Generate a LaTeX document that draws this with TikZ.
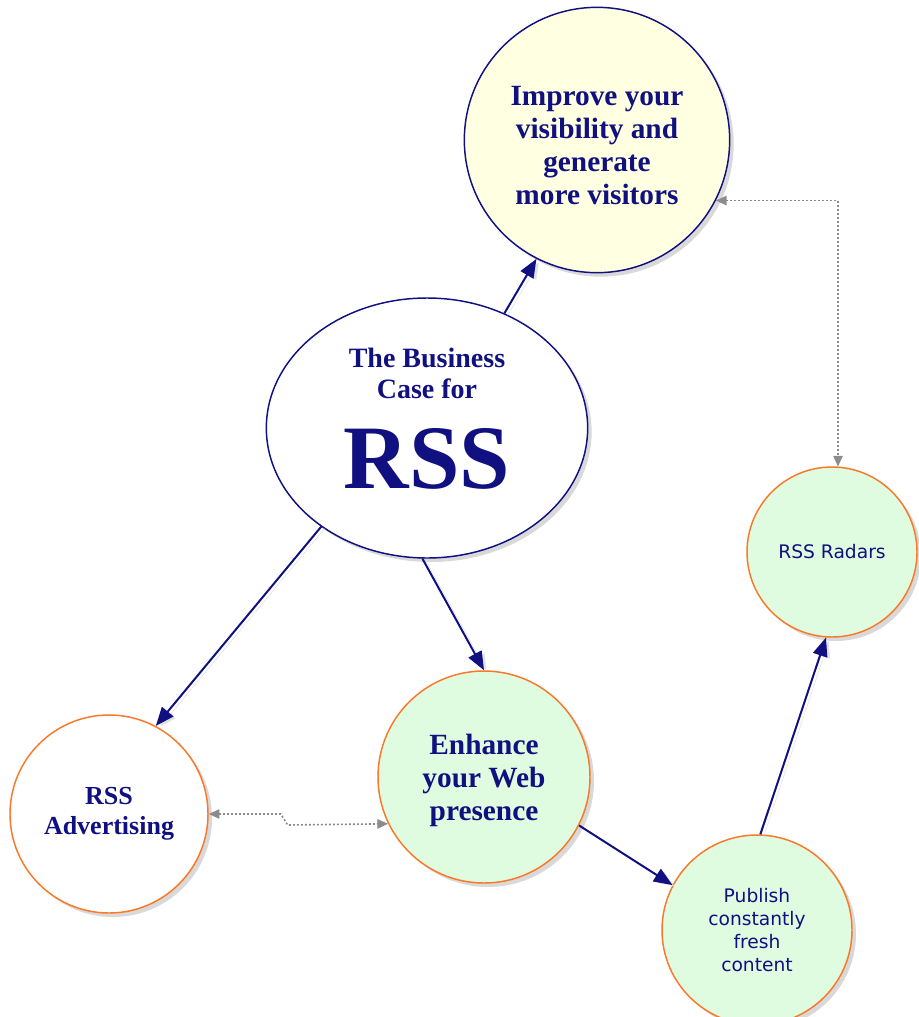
\documentclass[tikz,border=0pt]{standalone}
\usepackage{fontspec}
\setmainfont{Liberation Serif}
\newfontfamily\notesans{DejaVu Sans}
\usetikzlibrary{shapes.geometric, arrows.meta, shadows}
\definecolor{rssnavy}{RGB}{16,16,128}
\definecolor{rssorange}{RGB}{250,120,40}
\definecolor{rssyellow}{RGB}{255,255,226}
\definecolor{rssgreen}{RGB}{224,252,224}
\definecolor{rssgray}{RGB}{140,140,140}

\begin{document}
\begin{tikzpicture}[x=0.75pt, y=-0.75pt, %one unit is one pixel of the sketch
bubble/.style ={circle, draw, line width=1.1pt, inner sep=0pt, align=center, text=rssnavy,
  drop shadow={shadow xshift=3pt, shadow yshift=-3pt, opacity=0.3}},
serifbig/.style ={font=\bfseries\fontsize{22}{24.75}\selectfont},
serifmid/.style ={font=\bfseries\fontsize{19.5}{22.5}\selectfont},
sansnote/.style ={font=\notesans\fontsize{14}{17.25}\selectfont},
link/.style ={-{Triangle[length=14pt,width=11pt]}, draw=rssnavy, line width=1.5pt,
  preaction={draw=black!12, transform canvas={xshift=2.5pt, yshift=-1.5pt}}},
hint/.style ={{Triangle[length=8pt,width=7pt]}-{Triangle[length=8pt,width=7pt]}, draw=rssgray,
  line width=1.2pt, dash pattern=on 1.5pt off 1.5pt}
]
\useasboundingbox (0,0) rectangle (918,1017);
%top goal
\draw (597,140) node[bubble, draw=rssnavy, fill=rssyellow, minimum size=199pt, serifbig] (imp)
  {\rule{0pt}{23pt}Improve your\\visibility and\\generate\\more visitors};
%central ellipse
\draw (427,428) node[ellipse, draw=rssnavy, fill=white, line width=1.1pt, inner sep=0pt,
  minimum width=241pt, minimum height=195pt, align=center, text=rssnavy,
  drop shadow={shadow xshift=3pt, shadow yshift=-3pt, opacity=0.3},
  font=\bfseries\fontsize{21}{23.25}\selectfont] (core)
  {The Business\\Case for\\[21pt]{\fontsize{68}{70}\selectfont RSS}\rule[-15pt]{0pt}{15pt}};
%lower circles
\draw (109,814) node[bubble, draw=rssorange, fill=white, minimum size=148.5pt, serifmid] (adv)
  {RSS\\Advertising};
\draw (484,777) node[bubble, draw=rssorange, fill=rssgreen, minimum size=159pt, serifbig] (enh)
  {\rule{0pt}{21pt}Enhance\\your Web\\presence};
\draw (757,930) node[bubble, draw=rssorange, fill=rssgreen, minimum size=142.5pt, sansnote] (pub)
  {Publish\\constantly\\fresh\\content};
\draw (832,552) node[bubble, draw=rssorange, fill=rssgreen, minimum size=127.5pt, sansnote] (radar)
  {RSS Radars};
%arrows out of the core
\draw[link] (core.56) -- (imp.243);
\draw[link] (core.223) -- (adv.62);
\draw[link] (core.268) -- (enh.90);
%chain on the right
\draw[link] (enh.-27) -- (pub.152);
\draw[link] (pub.88) -- (radar.266);
%dotted two way links
\draw[hint] (imp.-27) -| (radar.86);
\draw[hint] (adv.east) -- ++(72,0) -- ++(7,11) -- (enh.206);
\end{tikzpicture}
\end{document}
